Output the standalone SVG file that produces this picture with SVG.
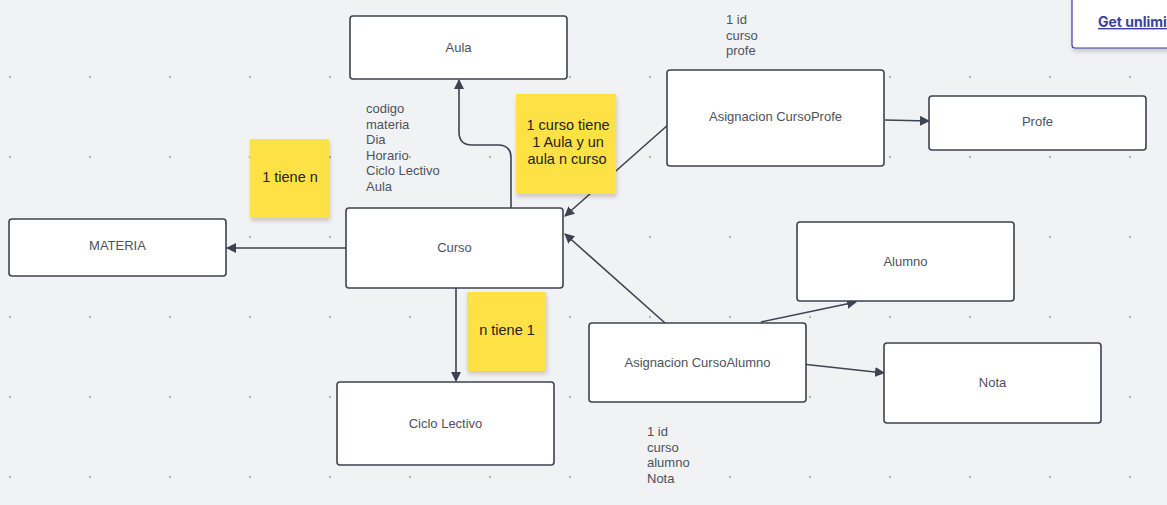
<svg xmlns="http://www.w3.org/2000/svg" width="1167" height="505" viewBox="0 0 1167 505">
<defs>
<pattern id="dots" x="10" y="-3" width="80" height="80" patternUnits="userSpaceOnUse">
<circle cx="0" cy="0" r="1.2" fill="#b4b7bd"/>
<circle cx="80" cy="0" r="1.2" fill="#b4b7bd"/>
<circle cx="0" cy="80" r="1.2" fill="#b4b7bd"/>
<circle cx="80" cy="80" r="1.2" fill="#b4b7bd"/>
</pattern>
<marker id="arr" viewBox="0 0 10 10" refX="9" refY="5" markerWidth="10" markerHeight="10" markerUnits="userSpaceOnUse" orient="auto">
<path d="M0,0 L10,5 L0,10 Z" fill="#3d4350"/>
</marker>
<filter id="sh" x="-10%" y="-10%" width="130%" height="130%">
<feDropShadow dx="1" dy="3" stdDeviation="2" flood-color="#000" flood-opacity="0.18"/>
</filter>
</defs>
<style>
.box{fill:#fff;stroke:#3d4350;stroke-width:1.6}
.lbl{font-family:"Liberation Sans",Arial,sans-serif;font-size:13px;fill:#4d525c;text-anchor:middle}
.note{fill:#fee244;filter:url(#sh)}
.nt{font-family:"Liberation Sans",Arial,sans-serif;font-size:14.5px;fill:#222;text-anchor:middle}
.attr{font-family:"Liberation Sans",Arial,sans-serif;font-size:13px;fill:#4d525c}
.con{fill:none;stroke:#3d4350;stroke-width:1.6;marker-end:url(#arr)}
</style>
<rect width="1167" height="505" fill="#f1f2f4"/>
<rect width="1167" height="505" fill="url(#dots)"/>

<g id="connectors">
<path class="con" d="M511,208 V158 Q511,145 498,145 H472 Q459,145 459,132 V80"/>
<path class="con" d="M346,248 H227"/>
<path class="con" d="M456,288 V381"/>
<path class="con" d="M669,124 L565,216"/>
<path class="con" d="M665,323 L565,234"/>
<path class="con" d="M885,120 L929,121"/>
<path class="con" d="M761,322 L856,302"/>
<path class="con" d="M802,364 L884,373"/>
</g>

<g id="aula"><rect class="box" x="350" y="16" width="217" height="63" rx="3"/><text class="lbl" x="458.5" y="51.5">Aula</text></g>
<g id="asig-profe"><rect class="box" x="667" y="70" width="217" height="96" rx="3"/><text class="lbl" x="775.5" y="121">Asignacion CursoProfe</text></g>
<g id="profe"><rect class="box" x="929" y="96" width="217" height="54" rx="3"/><text class="lbl" x="1037.5" y="126">Profe</text></g>
<g id="materia"><rect class="box" x="9" y="219" width="217" height="57" rx="3"/><text class="lbl" x="117.5" y="250">MATERIA</text></g>
<g id="curso"><rect class="box" x="346" y="208" width="217" height="80" rx="3"/><text class="lbl" x="454.5" y="252">Curso</text></g>
<g id="alumno"><rect class="box" x="797" y="222" width="217" height="79" rx="3"/><text class="lbl" x="905.5" y="266">Alumno</text></g>
<g id="asig-alumno"><rect class="box" x="589" y="323" width="217" height="79" rx="3"/><text class="lbl" x="697.5" y="367">Asignacion CursoAlumno</text></g>
<g id="nota"><rect class="box" x="884" y="343" width="217" height="80" rx="3"/><text class="lbl" x="992.5" y="387">Nota</text></g>
<g id="ciclo"><rect class="box" x="337" y="382" width="217" height="83" rx="3"/><text class="lbl" x="445.5" y="428">Ciclo Lectivo</text></g>

<g id="note-1n"><rect class="note" x="250" y="139" width="79" height="79"/><text class="nt" x="290" y="182">1 tiene n</text></g>
<g id="note-aula"><rect class="note" x="516" y="94" width="100" height="100"/>
<text class="nt" x="568" y="130">1 curso tiene</text><text class="nt" x="568" y="147">1 Aula y un</text><text class="nt" x="567" y="164">aula n curso</text></g>
<g id="note-n1"><rect class="note" x="467" y="292" width="79" height="79"/><text class="nt" x="507" y="335">n tiene 1</text></g>

<g id="attrs-curso"><text class="attr" x="366" y="113">codigo</text><text class="attr" x="366" y="129">materia</text><text class="attr" x="366" y="144">Dia</text><text class="attr" x="366" y="160">Horario</text><text class="attr" x="366" y="175">Ciclo Lectivo</text><text class="attr" x="366" y="191">Aula</text></g>
<g id="attrs-profe"><text class="attr" x="726" y="24">1 id</text><text class="attr" x="726" y="40">curso</text><text class="attr" x="726" y="55">profe</text></g>
<g id="attrs-alumno"><text class="attr" x="647" y="436">1 id</text><text class="attr" x="647" y="452">curso</text><text class="attr" x="647" y="467">alumno</text><text class="attr" x="647" y="483">Nota</text></g>

<g id="popup"><rect x="1072" y="-4" width="110" height="52" rx="3" fill="#fff" stroke="#3b3fa0" stroke-width="1.2" filter="url(#sh)"/>
<text x="1098" y="27" font-family="Inter,'Liberation Sans',sans-serif" font-size="14" font-weight="bold" fill="#3b3fa0" text-decoration="underline">Get unlimi</text></g>
</svg>
